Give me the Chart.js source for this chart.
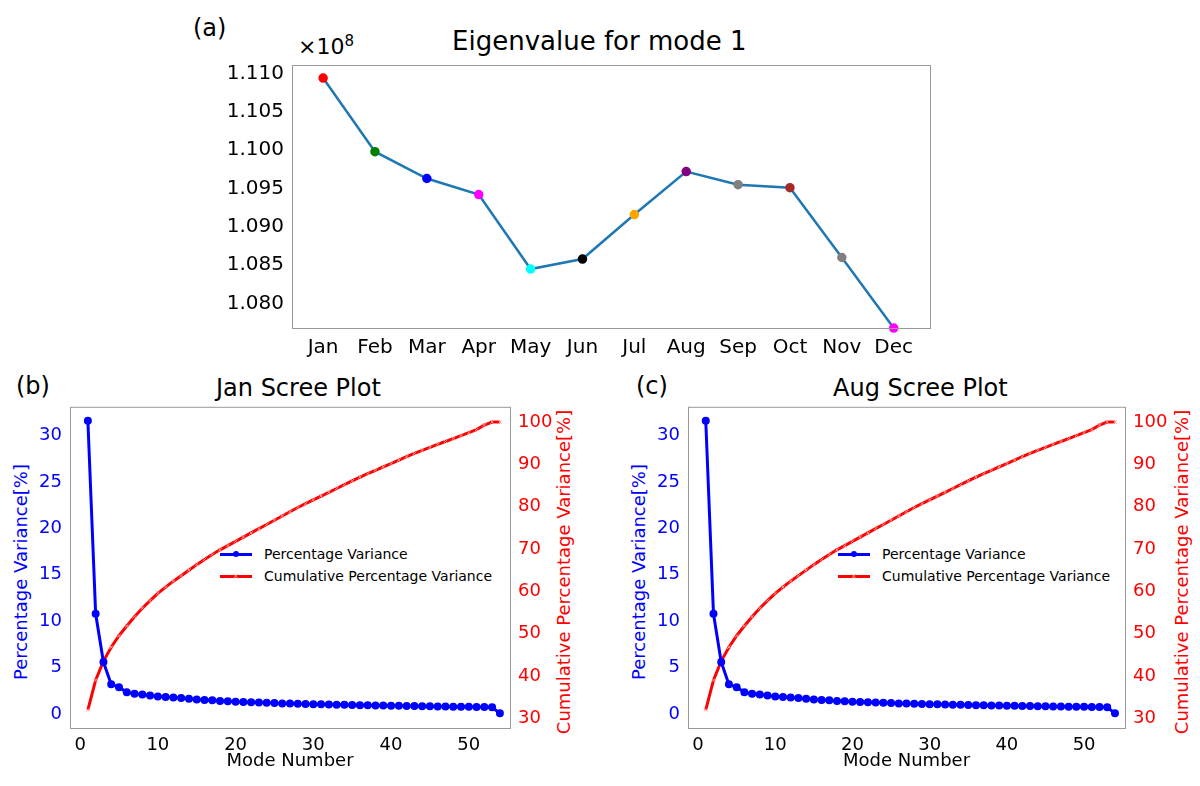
<!DOCTYPE html>
<html><head><meta charset="utf-8">
<script src="https://cdn.jsdelivr.net/npm/chart.js@4"></script>
<style>
  body { margin:0; background:#fff; width:1200px; height:786px; position:relative; overflow:hidden; font-family:"DejaVu Sans",sans-serif; }
  canvas { position:absolute; }
  .t { position:absolute; color:#000; white-space:nowrap; }
  .rot { position:absolute; white-space:nowrap; transform:translate(-50%,-50%) rotate(-90deg); font-size:18px; }
  .leg { position:absolute; font-size:14px; line-height:22px; }
  .leg div { display:flex; align-items:center; }
  .leg span.l { display:inline-block; width:32px; height:3px; margin-right:12px; position:relative; }
  .leg span.l i { position:absolute; left:13px; top:-2px; width:6px; height:6px; border-radius:3px; background:#0000ff; }
  .leg span.l b { position:absolute; left:12px; top:-6px; font-size:9px; line-height:14px; color:#ff9999; font-weight:normal; }
</style></head>
<body>
<div class="t" style="left:193px;top:14px;font-size:24px">(a)</div>
<div class="t" style="left:298px;top:32px;font-size:22px">×10<sup style="font-size:15px">8</sup></div>
<div class="t" style="left:452px;top:26px;font-size:26px">Eigenvalue for mode 1</div>
<div class="t" style="left:16px;top:372px;font-size:24px">(b)</div>
<div class="t" style="left:216px;top:374px;font-size:24px">Jan Scree Plot</div>
<div class="t" style="left:636px;top:372px;font-size:24px">(c)</div>
<div class="t" style="left:833px;top:374px;font-size:24px">Aug Scree Plot</div>
<div class="rot" style="left:20px;top:572px;color:#0000ff">Percentage Variance[%]</div>
<div class="rot" style="left:638px;top:572px;color:#0000ff">Percentage Variance[%]</div>
<div class="rot" style="left:563px;top:572px;color:#ff0000">Cumulative Percentage Variance[%]</div>
<div class="rot" style="left:1181px;top:572px;color:#ff0000">Cumulative Percentage Variance[%]</div>
<div class="leg" style="left:220px;top:543px">
  <div><span class="l" style="background:#0000ff"><i></i></span>Percentage Variance</div>
  <div><span class="l" style="background:#ff0000"><b>×</b></span>Cumulative Percentage Variance</div>
</div>
<div class="leg" style="left:838px;top:543px">
  <div><span class="l" style="background:#0000ff"><i></i></span>Percentage Variance</div>
  <div><span class="l" style="background:#ff0000"><b>×</b></span>Cumulative Percentage Variance</div>
</div>
<canvas id="top" style="left:192px;top:50px" width="760" height="320"></canvas>
<canvas id="jan" style="left:0px;top:393px" width="580" height="393"></canvas>
<canvas id="aug" style="left:618px;top:393px" width="582" height="393"></canvas>
<script>
/* ── Data ─────────────────────────────────────── */
const months = ['Jan','Feb','Mar','Apr','May','Jun','Jul','Aug','Sep','Oct','Nov','Dec'];
const eigen  = [1.1094,1.0998,1.0963,1.0942,1.0845,1.0858,1.0916,1.0972,1.0955,1.0951,1.0860,1.0768];
const monthColors = ['#ff0000','#008000','#0000ff','#ff00ff','#00ffff','#000000','#ffa500','#800080','#808080','#a52a2a','#808080','#ff00ff'];

const modes = Array.from({length:54}, (_,i) => i+1);
const pctVar = [31.6,10.8,5.6,3.2,2.9,2.35,2.2,2.1,2.0,1.9,1.85,1.78,1.72,1.65,1.58,1.52,1.48,1.42,1.38,1.33,
  1.3,1.27,1.24,1.21,1.18,1.15,1.13,1.11,1.09,1.07,1.05,1.03,1.01,1.0,0.98,0.96,0.95,0.93,0.92,0.9,
  0.89,0.88,0.86,0.85,0.84,0.82,0.81,0.8,0.79,0.78,0.77,0.76,0.74,0.08];
const cumVar = [32,39,43.5,46.8,49.5,51.8,54,56,57.8,59.5,61,62.4,63.7,65,66.3,67.5,68.7,69.8,70.8,71.8,
  72.8,73.8,74.8,75.8,76.8,77.8,78.8,79.8,80.7,81.6,82.5,83.4,84.3,85.2,86.1,87,87.8,88.6,89.4,90.2,
  91,91.8,92.6,93.3,94,94.7,95.4,96.1,96.8,97.5,98.2,99.3,100,100];

Chart.defaults.font.family = 'DejaVu Sans';
Chart.defaults.color = '#000';
const border = { display:false };
const grid = { display:false, drawTicks:true, tickLength:5, tickColor:'#000' };
const fix = (w, h) => s => { if (w != null) s.width = w; if (h != null) s.height = h; };

// matplotlib-style box round the plot area
const frame = {
  id:'frame',
  afterDraw(c) {
    const a = c.chartArea, x = c.ctx;
    x.save(); x.strokeStyle = '#999'; x.lineWidth = 1;
    x.strokeRect(a.left+0.5, a.top+0.5, a.right-a.left, a.bottom-a.top);
    x.restore();
  }
};

/* ── (a) eigenvalue ───────────────────────────── */
new Chart(document.getElementById('top'), {
  type:'line',
  data:{ datasets:[{
    data: eigen.map((v,i) => ({x:i, y:v*1e8})),
    borderColor:'#1f77b4', borderWidth:2.5, clip:false,
    pointBackgroundColor: monthColors, pointBorderColor: monthColors, pointRadius:3.5
  }]},
  options:{
    responsive:false, animation:false,
    layout:{ padding:{ top:10, right:22 } },
    plugins:{ legend:{display:false}, tooltip:{enabled:false} },
    scales:{
      x:{ type:'linear', min:-0.6, max:11.7, afterFit:fix(null,42), border, grid,
          afterBuildTicks: s => { s.ticks = months.map((_,i) => ({value:i})); },
          ticks:{ font:{size:20}, callback: v => months[v], autoSkip:false, maxRotation:0 } },
      y:{ min:1.07681e8, max:1.1111e8, afterFit:fix(100,null), border, grid,
          afterBuildTicks: s => { s.ticks = [1.080,1.085,1.090,1.095,1.100,1.105,1.110].map(v => ({value:v*1e8})); },
          ticks:{ font:{size:20}, callback: v => (v/1e8).toFixed(3) } }
    }
  },
  plugins:[frame]
});

/* ── (b),(c) scree plots ──────────────────────── */
function scree(id, rightW) {
  new Chart(document.getElementById(id), {
    type:'line',
    data:{ datasets:[
      { data: modes.map((m,i) => ({x:m, y:pctVar[i]})), yAxisID:'y',
        borderColor:'#0000ff', backgroundColor:'#0000ff', borderWidth:3, pointRadius:2.5 },
      { data: modes.map((m,i) => ({x:m, y:cumVar[i]})), yAxisID:'y1',
        borderColor:'#ff0000', borderWidth:3, pointStyle:'crossRot', pointRadius:2.5,
        pointBorderColor:'#ff9999', pointBorderWidth:1 }
    ]},
    options:{
      responsive:false, animation:false,
      layout:{ padding:{ top:10, bottom:14 } },
      plugins:{ legend:{display:false}, tooltip:{enabled:false} },
      scales:{
        x:{ type:'linear', min:-1.3, max:55.3, afterFit:fix(null,44), border, grid,
            afterBuildTicks: s => { s.ticks = [0,10,20,30,40,50].map(v => ({value:v})); },
            ticks:{ font:{size:18}, padding:2 },
            title:{ display:true, text:'Mode Number', font:{size:18}, padding:0 } },
        y:{ position:'left', min:-1.5, max:33.1, afterFit:fix(70,null), border, grid,
            afterBuildTicks: s => { s.ticks = [0,5,10,15,20,25,30].map(v => ({value:v})); },
            ticks:{ font:{size:18}, color:'#0000ff' } },
        y1:{ position:'right', min:27.7, max:103.6, afterFit:fix(rightW,null), border, grid,
            afterBuildTicks: s => { s.ticks = [30,40,50,60,70,80,90,100].map(v => ({value:v})); },
            ticks:{ font:{size:18}, color:'#ff0000' } }
      }
    },
    plugins:[frame]
  });
}
scree('jan', 70);
scree('aug', 75);
</script>
</body></html>
